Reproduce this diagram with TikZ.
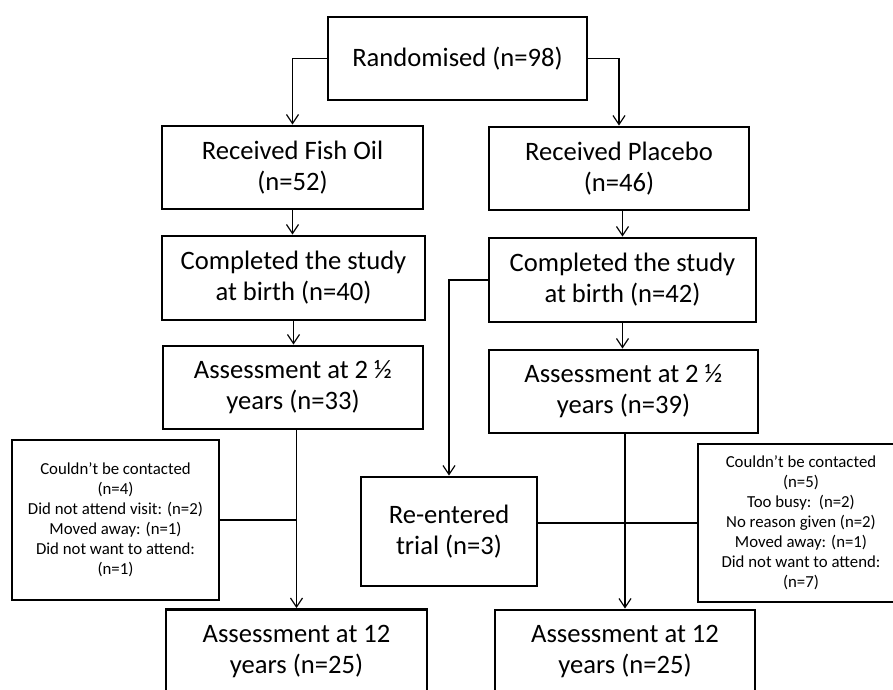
\documentclass[tikz,border=0pt]{standalone}
\usepackage{fontspec}
\setmainfont{Carlito}
\usetikzlibrary{arrows.meta}
\begin{document}
\begin{tikzpicture}[x=1pt,y=-1pt,
  box/.style={draw, rectangle, line width=2.9pt, align=center, inner sep=0pt,
              font=\fontsize{26.6}{31}\selectfont},
  smallbox/.style={draw, rectangle, line width=2.9pt, align=center, inner sep=0pt,
              font=\fontsize{16.8}{20}\selectfont},
  conn/.style={line width=1.2pt},
  arr/.style={conn, -{Straight Barb[length=9pt,width=12pt]}}]
\useasboundingbox (0,0) rectangle (893,689);
\clip (0,0) rectangle (893,689);

\node[box, minimum width=259pt, minimum height=83pt] (rand) at (457.5,58.5) {Randomised (n=98)};
\node[box, minimum width=261pt, minimum height=83pt] (fish) at (292.5,167.5) {Received Fish Oil\\(n=52)};
\node[box, minimum width=260pt, minimum height=83pt] (plac) at (619,168.5) {Received Placebo\\(n=46)};
\node[box, minimum width=263pt, minimum height=84pt] (compL) at (293.5,278) {Completed the study\\at birth (n=40)};
\node[box, minimum width=267pt, minimum height=84pt] (compR) at (622.5,280) {Completed the study\\at birth (n=42)};
\node[box, minimum width=260pt, minimum height=83pt] (assL) at (293,387.5) {Assessment at 2 ½\\years (n=33)};
\node[box, minimum width=269pt, minimum height=83pt] (assR) at (623.5,391.5) {Assessment at 2 ½\\years (n=39)};
\node[smallbox, minimum width=207pt, minimum height=160pt] (exL) at (115.5,520)
  {Couldn’t be contacted\\(n=4)\\Did not attend visit: (n=2)\\Moved away: (n=1)\\Did not want to attend:\\(n=1)};
\node[box, minimum width=176pt, minimum height=109pt] (reent) at (449,531.5) {Re-entered\\trial (n=3)};
\node[smallbox, minimum width=206pt, minimum height=158pt] (exR) at (801,523)
  {Couldn’t be contacted\\(n=5)\\Too busy:~~(n=2)\\No reason given (n=2)\\Moved away: (n=1)\\Did not want to attend:\\(n=7)};
\node[box, minimum width=261pt, minimum height=83pt] (aL) at (296.5,651) {Assessment at 12\\years (n=25)};
\node[box, minimum width=260pt, minimum height=83pt] (aR) at (625,651.5) {Assessment at 12\\years (n=25)};

\draw[arr] (rand.west) -| (fish.north);
\draw[arr] (rand.east) -| (plac.north);
\draw[arr] (fish.south) -- (fish.south |- compL.north);
\draw[arr] (compR.north |- plac.south) -- (compR.north);
\draw[arr] (compL.south) -- (compL.south |- assL.north);
\draw[arr] (compR.south) -- (compR.south |- assR.north);
\draw[arr] (aL.north |- assL.south) -- (aL.north);
\draw[conn] (exL.east) -- (exL.east -| aL.north);
\draw[arr] (aR.north |- assR.south) -- (aR.north);
\draw[arr] (compR.west) -| (reent.north);
\draw[conn] (exR.west -| reent.east) -- (exR.west);
\end{tikzpicture}
\end{document}
